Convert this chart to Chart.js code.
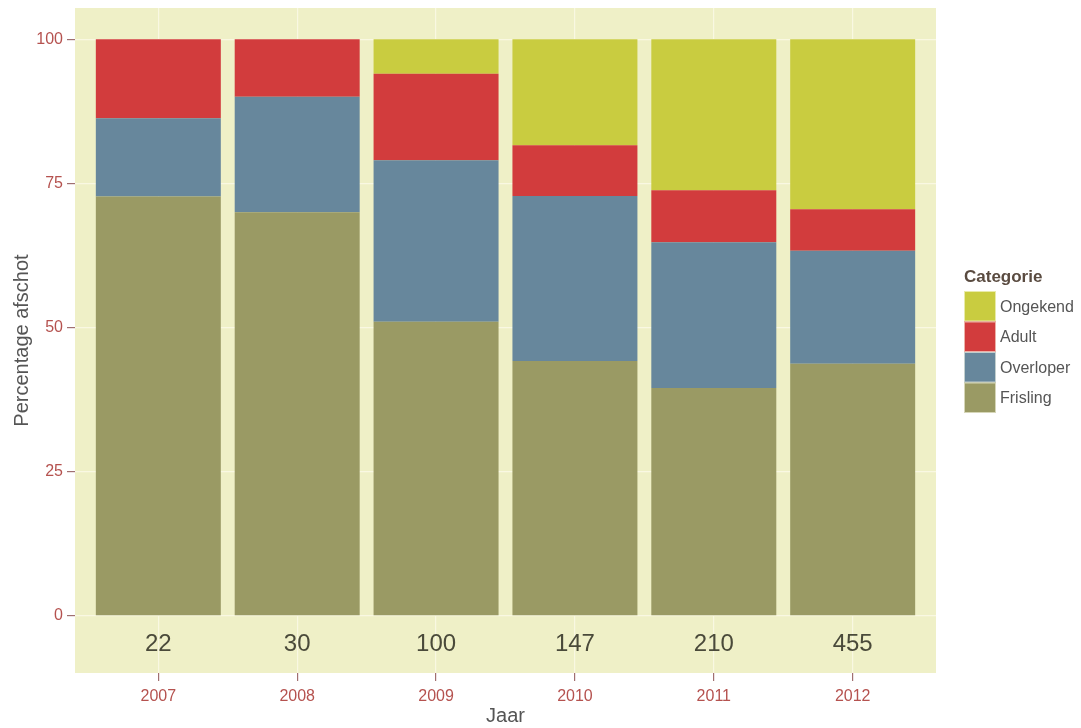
<!DOCTYPE html>
<html>
<head>
<meta charset="utf-8">
<title>Percentage afschot per jaar</title>
<script src="https://cdn.jsdelivr.net/npm/chart.js@4.4.1/dist/chart.umd.min.js"></script>
<style>
  html, body { margin: 0; padding: 0; background: #fff; }
  #wrap { width: 1081px; height: 728px; }
</style>
</head>
<body>
<div id="wrap"><canvas id="afschot-chart"></canvas></div>
<script>
// afschot per jaar, in procent per categorie
const years = ['2007', '2008', '2009', '2010', '2011', '2012'];
const totals = [22, 30, 100, 147, 210, 455];
const frisling = [72.7, 70.0, 51.0, 44.2, 39.5, 43.7];
const overloper = [13.6, 20.0, 28.0, 28.6, 25.3, 19.6];
const adult = [13.7, 10.0, 15.0, 8.8, 9.0, 7.2];
const ongekend = [0, 0, 6.0, 18.4, 26.2, 29.5];

const FONT = '"Liberation Sans", Arial, Helvetica, sans-serif';
const PANEL_BG = '#EFF0C7';
const GRID = '#F9F8E2';
const TICK_TEXT = '#B5524F';

function points(values) {
  return values.map((v, i) => ({ x: i, y: v }));
}

// panel background behind grid and bars
const panelBackground = {
  id: 'panelBackground',
  beforeDraw(chart) {
    const { ctx, chartArea } = chart;
    ctx.save();
    ctx.fillStyle = PANEL_BG;
    ctx.fillRect(chartArea.left, chartArea.top, chartArea.width, chartArea.bottom - chartArea.top);
    ctx.restore();
  },
};

// number of animals under each bar
const totalLabels = {
  id: 'totalLabels',
  afterDatasetsDraw(chart) {
    const { ctx, scales } = chart;
    ctx.save();
    ctx.font = '24px ' + FONT;
    ctx.fillStyle = '#4A4A3A';
    ctx.textAlign = 'center';
    ctx.textBaseline = 'middle';
    totals.forEach((n, i) => {
      ctx.fillText(String(n), scales.x.getPixelForValue(i), scales.y.getPixelForValue(-5));
    });
    ctx.restore();
  },
};

// legend with keys stacked without gaps
const categorieLegend = {
  id: 'categorieLegend',
  afterDraw(chart) {
    const { ctx, chartArea } = chart;
    const x = chartArea.right + 28;
    const keyW = 32;
    const keyH = 30.5;
    let y = 291;
    ctx.save();
    ctx.textBaseline = 'middle';
    ctx.font = 'bold 17px ' + FONT;
    ctx.fillStyle = '#5A4B40';
    ctx.fillText('Categorie', x, 277);
    ctx.font = '16px ' + FONT;
    chart.data.datasets.slice().reverse().forEach((ds) => {
      ctx.fillStyle = ds.backgroundColor;
      ctx.fillRect(x, y, keyW, keyH);
      ctx.strokeStyle = 'rgba(255,255,240,0.6)';
      ctx.lineWidth = 1;
      ctx.strokeRect(x + 0.5, y + 0.5, keyW - 1, keyH - 1);
      ctx.fillStyle = '#555555';
      ctx.fillText(ds.label, x + keyW + 4, y + keyH / 2 + 1);
      y += keyH;
    });
    ctx.restore();
  },
};

const ctx = document.getElementById('afschot-chart').getContext('2d');
const afschotChart = new Chart(ctx, {
  type: 'bar',
  data: {
    datasets: [
      { label: 'Frisling', data: points(frisling), backgroundColor: '#9A9A64' },
      { label: 'Overloper', data: points(overloper), backgroundColor: '#67879C' },
      { label: 'Adult', data: points(adult), backgroundColor: '#D23C3D' },
      { label: 'Ongekend', data: points(ongekend), backgroundColor: '#C9CC40' },
    ],
  },
  options: {
    responsive: true,
    maintainAspectRatio: false,
    animation: false,
    layout: { padding: { left: 0, top: 8, right: 145, bottom: 0 } },
    datasets: {
      bar: { barPercentage: 0.9, categoryPercentage: 1.0, borderWidth: 0 },
    },
    plugins: {
      legend: { display: false },
      tooltip: { enabled: false },
    },
    scales: {
      x: {
        type: 'linear',
        stacked: true,
        offset: false,
        min: -0.6,
        max: 5.6,
        afterBuildTicks: (scale) => {
          scale.ticks = years.map((y, i) => ({ value: i }));
        },
        afterFit: (scale) => {
          scale.height = 55;
          scale.paddingLeft = 0;
          scale.paddingRight = 0;
        },
        ticks: {
          callback: (v) => years[v],
          color: TICK_TEXT,
          font: { family: FONT, size: 16 },
          padding: 6,
          maxRotation: 0,
        },
        grid: { offset: false, color: GRID, lineWidth: 1.2, tickColor: '#A07070', tickLength: 8 },
        border: { display: false },
        title: {
          display: true,
          text: 'Jaar',
          color: '#555555',
          font: { family: FONT, size: 20, lineHeight: 1.0 },
          padding: { top: 0, bottom: 2 },
        },
      },
      y: {
        stacked: true,
        min: -9.9,
        max: 105.4,
        afterBuildTicks: (scale) => {
          scale.ticks = [0, 25, 50, 75, 100].map((v) => ({ value: v }));
        },
        afterFit: (scale) => {
          scale.width = 75;
          scale.paddingTop = 0;
          scale.paddingBottom = 0;
        },
        ticks: {
          color: TICK_TEXT,
          font: { family: FONT, size: 16 },
          padding: 4,
        },
        grid: { color: GRID, lineWidth: 1.2, tickColor: '#A07070', tickLength: 8 },
        border: { display: false },
        title: {
          display: true,
          text: 'Percentage afschot',
          color: '#555555',
          font: { family: FONT, size: 20 },
          padding: { top: 10, bottom: 4 },
        },
      },
    },
  },
  plugins: [panelBackground, totalLabels, categorieLegend],
});
</script>
</body>
</html>
